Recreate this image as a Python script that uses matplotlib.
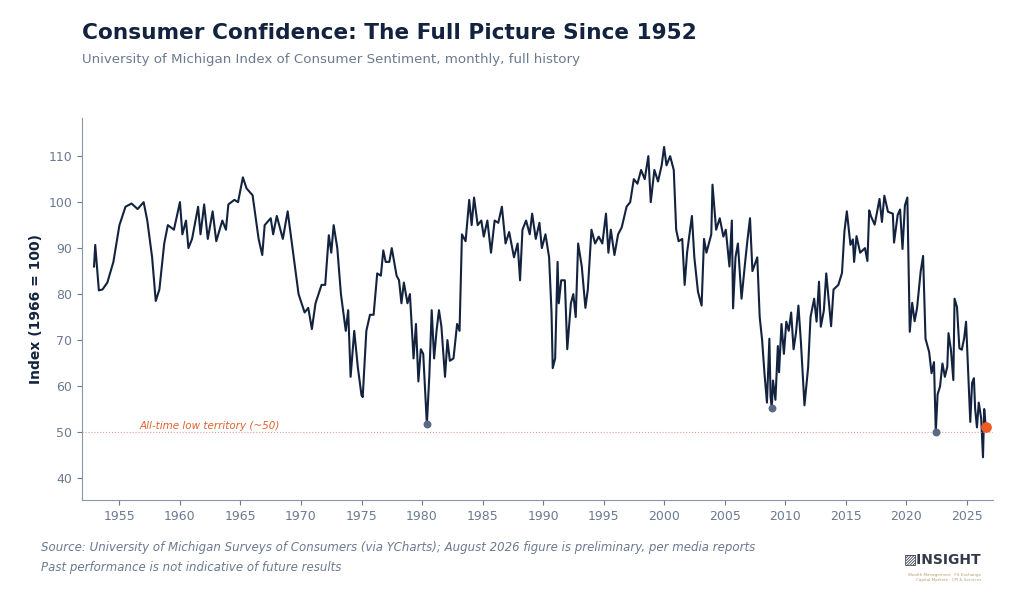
import matplotlib.pyplot as plt

years = [1952.9, 1953.0, 1953.3, 1953.6, 1954.0, 1954.5, 1955.0, 1955.5, 1956.0, 1956.5, 1957.0, 1957.3, 1957.7,
         1958.0, 1958.3, 1958.7, 1959.0, 1959.5, 1960.0, 1960.2, 1960.5, 1960.7, 1961.0, 1961.5, 1961.7, 1962.0,
         1962.3, 1962.7, 1963.0, 1963.5, 1963.8, 1964.0, 1964.5, 1964.8, 1965.2, 1965.5, 1966.0, 1966.5, 1966.8,
         1967.0, 1967.5, 1967.7, 1968.0, 1968.5, 1968.9, 1969.3, 1969.8, 1970.3, 1970.6, 1970.9, 1971.2, 1971.7,
         1972.0, 1972.3, 1972.5, 1972.7, 1973.0, 1973.3, 1973.7, 1973.9, 1974.1, 1974.4, 1974.7, 1975.0, 1975.1,
         1975.4, 1975.7, 1976.0, 1976.3, 1976.6, 1976.8, 1977.0, 1977.3, 1977.5, 1977.9, 1978.1, 1978.3, 1978.5,
         1978.8, 1979.0, 1979.3, 1979.5, 1979.7, 1979.9, 1980.1, 1980.4, 1980.6, 1980.8, 1981.0, 1981.2, 1981.4,
         1981.6, 1981.9, 1982.1, 1982.3, 1982.6, 1982.9, 1983.1, 1983.3, 1983.6, 1983.9, 1984.1, 1984.3, 1984.6,
         1984.9, 1985.1, 1985.4, 1985.7, 1986.0, 1986.3, 1986.6, 1986.9, 1987.2, 1987.6, 1987.9, 1988.1, 1988.3,
         1988.6, 1988.9, 1989.1, 1989.4, 1989.7, 1989.9, 1990.2, 1990.5, 1990.7, 1990.8, 1991.0, 1991.2, 1991.3,
         1991.5, 1991.8, 1992.0, 1992.3, 1992.5, 1992.7, 1992.9, 1993.2, 1993.5, 1993.7, 1994.0, 1994.3, 1994.6,
         1994.9, 1995.2, 1995.4, 1995.6, 1995.9, 1996.2, 1996.5, 1996.9, 1997.2, 1997.5, 1997.8, 1998.1, 1998.4,
         1998.7, 1998.9, 1999.2, 1999.5, 1999.8, 2000.0, 2000.2, 2000.5, 2000.8, 2001.0, 2001.2, 2001.5, 2001.7,
         2001.9, 2002.1, 2002.3, 2002.5, 2002.8, 2003.1, 2003.3, 2003.5, 2003.9, 2004.0, 2004.3, 2004.6, 2004.9,
         2005.1, 2005.4, 2005.6, 2005.7, 2005.9, 2006.1, 2006.4, 2006.7, 2006.9, 2007.1, 2007.3, 2007.7, 2007.9,
         2008.1, 2008.3, 2008.5, 2008.7, 2008.8, 2008.9, 2009.0, 2009.2, 2009.4, 2009.5, 2009.7, 2009.9, 2010.1,
         2010.3, 2010.5, 2010.7, 2010.9, 2011.1, 2011.3, 2011.6, 2011.9, 2012.1, 2012.4, 2012.6, 2012.8, 2012.95,
         2013.2, 2013.4, 2013.8, 2014.0, 2014.4, 2014.7, 2014.9, 2015.1, 2015.4, 2015.6, 2015.7, 2015.9, 2016.2,
         2016.6, 2016.8, 2016.95, 2017.1, 2017.4, 2017.8, 2018.0, 2018.2, 2018.5, 2018.9, 2019.0, 2019.3, 2019.5,
         2019.7, 2019.9, 2020.1, 2020.3, 2020.5, 2020.7, 2020.9, 2021.2, 2021.4, 2021.6, 2021.9, 2022.1, 2022.3,
         2022.45, 2022.6, 2022.8, 2023.0, 2023.2, 2023.4, 2023.5, 2023.7, 2023.9, 2024.0, 2024.2, 2024.4, 2024.6,
         2024.8, 2024.95, 2025.1, 2025.3, 2025.45, 2025.6, 2025.7, 2025.85, 2026.0, 2026.2, 2026.35, 2026.45, 2026.58]
index = [86, 90.7, 80.8, 81, 82.5, 87, 95, 99, 99.7, 98.5, 100, 96, 88,
         78.5, 81, 91, 95, 94, 100, 93, 96, 90, 92, 99, 93, 99.5,
         92, 98, 91.5, 96, 94, 99.5, 100.5, 100, 105.4, 103, 101.5, 92, 88.5,
         95, 96.5, 93, 97, 92, 98, 90, 80, 76, 77, 72.4, 78, 82,
         82, 92.8, 89, 95, 90, 80, 72, 76.5, 62, 72, 64, 58, 57.6,
         72, 75.5, 75.5, 84.5, 84, 89.5, 87, 87, 90, 84, 83, 78, 82.5,
         78, 80, 66, 73.5, 61, 68, 67, 51.7, 62, 76.5, 66, 72, 76.5,
         73, 62, 70, 65.5, 66, 73.5, 72, 93, 91.5, 100.5, 95, 101, 95,
         96, 92.5, 96, 89, 96, 95.5, 99, 91, 93.5, 88, 91, 83, 94,
         96, 93, 97.5, 92, 95.5, 90, 93, 88, 76, 63.9, 66, 87, 78,
         83, 83, 68, 78, 80, 75, 91, 86, 77, 81, 94, 91, 92.5,
         91, 97.5, 89, 94, 88.5, 93, 94.5, 99, 100, 105, 104, 107, 105,
         110, 100, 107, 104.5, 108, 112, 108, 110, 107, 94, 91.5, 92, 82,
         89, 93, 97, 88, 80.5, 77.5, 92, 89, 93, 103.8, 94, 96.5, 92.5,
         94, 86, 96, 76.9, 88, 91, 79, 87, 92, 96.5, 85, 88, 75,
         70, 62.6, 56.4, 70.3, 57.6, 55.3, 61.2, 57, 68.7, 63, 73.5, 67, 74,
         72, 76, 68, 71.6, 77.5, 69.8, 55.8, 64, 75, 79, 74, 82.7, 72.9,
         76.4, 84.5, 73, 81, 82, 84.6, 93.6, 98, 90.7, 91.9, 87, 92.6, 89,
         90, 87.2, 98.2, 96.9, 95.1, 100.7, 95.7, 101.4, 97.9, 97.5, 91.2, 97.2, 98.4,
         89.8, 99.3, 101, 71.8, 78.1, 74.1, 76.9, 84.9, 88.3, 70.3, 67.4, 62.8, 65.2,
         50.0, 58.2, 59.9, 64.9, 62, 64.2, 71.5, 67.9, 61.3, 79, 77.2, 68.2, 67.9,
         70.5, 74, 64.7, 52.2, 60.7, 61.7, 55.1, 51, 56.4, 53, 44.5, 55, 51]

lows_x = [1980.4, 2008.9, 2022.45]
lows_y = [51.7, 55.3, 50.0]
latest_x, latest_y = 2026.58, 51

navy = "#13233f"
grey = "#6b7a90"

fig = plt.figure(figsize=(10.24, 5.96), dpi=100)
ax = fig.add_axes([0.080, 0.161, 0.890, 0.641])

ax.plot(years, index, color=navy, lw=1.5)
ax.axhline(50, color="#e0a0a0", lw=0.8, ls=":")
ax.text(1956.7, 50.6, "All-time low territory (~50)", color="#e0612f", fontsize=7.5, style="italic")
ax.scatter(lows_x, lows_y, s=22, color="#5a6a85", zorder=3)
ax.scatter([latest_x], [latest_y], s=45, color="#ee5a24", zorder=4)

ax.set_xlim(1951.9, 2027.2)
ax.set_ylim(35.2, 118.3)
ax.set_xticks(range(1955, 2030, 5))
ax.set_yticks(range(40, 120, 10))
ax.tick_params(colors=grey, labelsize=9)
for s in ["top", "right"]:
    ax.spines[s].set_visible(False)
for s in ["left", "bottom"]:
    ax.spines[s].set_color("#8a96a8")
ax.set_ylabel("Index (1966 = 100)", color=navy, fontsize=10, fontweight="bold")

fig.text(0.080, 0.935, "Consumer Confidence: The Full Picture Since 1952", fontsize=15.6,
         fontweight="bold", color=navy)
fig.text(0.080, 0.895, "University of Michigan Index of Consumer Sentiment, monthly, full history",
         fontsize=9.6, color=grey)
fig.text(0.040, 0.075, "Source: University of Michigan Surveys of Consumers (via YCharts); August 2026 figure is preliminary, per media reports",
         fontsize=8.5, color=grey, style="italic")
fig.text(0.040, 0.042, "Past performance is not indicative of future results",
         fontsize=8.5, color=grey, style="italic")
fig.text(0.958, 0.055, "▨INSIGHT", fontsize=10, color="#333b4a", ha="right", fontweight="bold")
fig.text(0.958, 0.038, "Wealth Management · FX Exchange\nCapital Markets · CPI & Services", fontsize=3,
         color="#b89f70", ha="right", va="top")

fig.savefig("out.png", dpi=100)
